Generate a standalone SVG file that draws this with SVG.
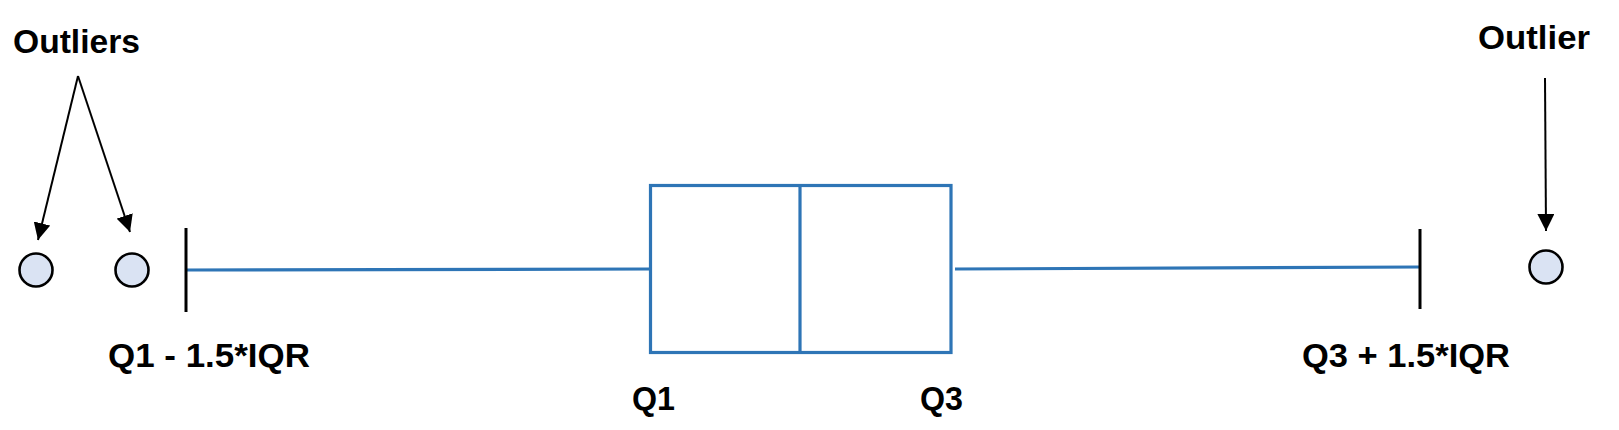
<svg xmlns="http://www.w3.org/2000/svg" width="1619" height="430" viewBox="0 0 1619 430">
<style>
.lbl{font-family:"Liberation Sans",Arial,sans-serif;font-weight:bold;font-size:33px;fill:#000}
.box{fill:none;stroke:#2E75B6;stroke-width:3.2}
.pt{fill:#DAE3F3;stroke:#000;stroke-width:2.6}
.cap{stroke:#000;stroke-width:3}
.arr{stroke:#000;stroke-width:2;fill:none;marker-end:url(#ah)}
</style>
<defs>
<marker id="ah" viewBox="0 0 10 10" refX="10" refY="5" markerUnits="userSpaceOnUse" markerWidth="17" markerHeight="17" orient="auto">
<path d="M0,0 L10,5 L0,10 Z" fill="#000"/>
</marker>
</defs>
<rect width="1619" height="430" fill="#fff"/>
<g id="boxplot">
<line class="box" x1="186" y1="270" x2="650" y2="269"/>
<line class="box" x1="955" y1="269" x2="1420" y2="267"/>
<rect class="box" x="650.5" y="185.5" width="300.5" height="167"/>
<line class="box" x1="800" y1="185.5" x2="800" y2="352.5"/>
<line class="cap" x1="186" y1="228" x2="186" y2="312"/>
<line class="cap" x1="1420" y1="229" x2="1420" y2="309"/>
</g>
<g id="outlier1"><circle class="pt" cx="36" cy="270" r="16.5"/></g>
<g id="outlier2"><circle class="pt" cx="132" cy="270" r="16.5"/></g>
<g id="outlier3"><circle class="pt" cx="1546" cy="267" r="16.5"/></g>
<g id="connectors">
<line class="arr" x1="78" y1="76" x2="38" y2="240"/>
<line class="arr" x1="78" y1="76" x2="130" y2="232"/>
<line class="arr" x1="1545" y1="78" x2="1546" y2="231"/>
</g>
<g id="labels">
<text class="lbl" x="13" y="53" textLength="127" lengthAdjust="spacingAndGlyphs">Outliers</text>
<text class="lbl" x="1478" y="49" textLength="112" lengthAdjust="spacingAndGlyphs">Outlier</text>
<text class="lbl" x="108" y="367" textLength="202" lengthAdjust="spacingAndGlyphs">Q1 - 1.5*IQR</text>
<text class="lbl" x="1302" y="367" textLength="208" lengthAdjust="spacingAndGlyphs">Q3 + 1.5*IQR</text>
<text class="lbl" x="632" y="410" textLength="43" lengthAdjust="spacingAndGlyphs">Q1</text>
<text class="lbl" x="920" y="410" textLength="43" lengthAdjust="spacingAndGlyphs">Q3</text>
</g>
</svg>
